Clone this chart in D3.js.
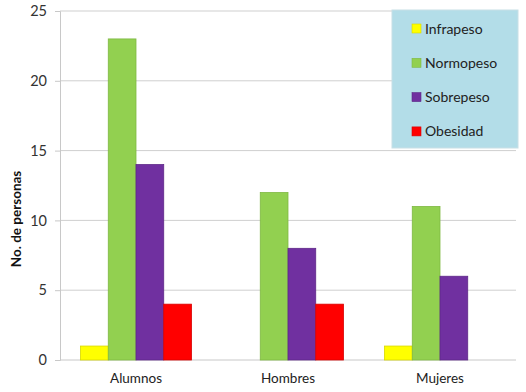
<!DOCTYPE html>
<html><head><meta charset="utf-8">
<script src="https://cdn.jsdelivr.net/npm/d3@7"></script>
<style>body{margin:0;background:#fff}svg{display:block;font-family:Lato,"Open Sans",sans-serif}</style>
</head><body>
<svg id="c" width="526" height="392"></svg>
<script>
const categories = ["Alumnos", "Hombres", "Mujeres"];
const seriesNames = ["Infrapeso", "Normopeso", "Sobrepeso", "Obesidad"];
const infrapeso = [1, 0, 1];
const normopeso = [23, 12, 11];
const sobrepeso = [14, 8, 6];
const obesidad = [4, 4, 0];
const yTicks = [0, 5, 10, 15, 20, 25];
const colors = ["#FFFF00", "#92D050", "#7030A0", "#FF0000"];
const strokes = ["#d8d800", "#7fb843", "#5e2888", "#d80000"];

const seriesValues = [infrapeso, normopeso, sobrepeso, obesidad];
const svg = d3.select("#c");
const m = {l: 60, r: 10, t: 11, b: 32};
const x0 = d3.scaleBand().domain(categories).range([m.l, 516]).paddingInner(0.27).paddingOuter(0.135);
const x1 = d3.scaleBand().domain(seriesNames).range([0, x0.bandwidth()]);
const y = d3.scaleLinear().domain([0, 25]).range([360, 11]);

// gridlines
svg.append("g").selectAll("line").data(yTicks.filter(d => d > 0)).join("line")
  .attr("x1", m.l).attr("x2", 516).attr("y1", d => y(d)).attr("y2", d => y(d))
  .attr("stroke", "#cfcfcf").attr("stroke-width", 1);

// y axis
const ya = svg.append("g").attr("transform", `translate(${m.l},0)`)
  .call(d3.axisLeft(y).tickValues(yTicks).tickSize(5).tickPadding(8));
ya.select(".domain").attr("stroke", "#c8c8c8");
ya.selectAll(".tick line").attr("stroke", "#c8c8c8");
ya.selectAll(".tick text").attr("font-size", 14.5).attr("fill", "#333").attr("font-family", "Lato, sans-serif");

// x baseline
svg.append("line").attr("x1", m.l).attr("x2", 516).attr("y1", y(0)).attr("y2", y(0)).attr("stroke", "#c8c8c8");

// bars
const rows = [];
categories.forEach((c, i) => seriesNames.forEach((s, j) => rows.push({c, s, j, v: seriesValues[j][i]})));
svg.append("g").selectAll("rect").data(rows.filter(d => d.v > 0)).join("rect")
  .attr("x", d => x0(d.c) + x1(d.s))
  .attr("y", d => y(d.v))
  .attr("width", x1.bandwidth())
  .attr("height", d => y(0) - y(d.v))
  .attr("fill", d => colors[d.j])
  .attr("stroke", d => strokes[d.j]).attr("stroke-width", 0.8);

// x labels
svg.append("g").selectAll("text").data(categories).join("text")
  .attr("x", d => x0(d) + x0.bandwidth() / 2).attr("y", 383)
  .attr("text-anchor", "middle").attr("font-size", 13.5).attr("fill", "#222").text(d => d);

// y title
svg.append("text").attr("transform", "translate(21,219) rotate(-90)")
  .attr("text-anchor", "middle").attr("font-size", 13.5).attr("font-weight", "bold").attr("fill", "#111")
  .text("No. de personas");

// legend
const lg = svg.append("g");
lg.append("rect").attr("x", 392).attr("y", 10).attr("width", 126).attr("height", 138)
  .attr("fill", "#B3DDE8").attr("stroke", "#c8dfe6");
seriesNames.forEach((s, j) => {
  const cy = 28.5 + j * 34.3;
  lg.append("rect").attr("x", 412).attr("y", cy - 4.5).attr("width", 9).attr("height", 9)
    .attr("fill", colors[j]).attr("stroke", strokes[j]).attr("stroke-width", 0.6);
  lg.append("text").attr("x", 425).attr("y", cy + 5).attr("font-size", 14).attr("fill", "#222").text(s);
});
</script>
</body></html>
